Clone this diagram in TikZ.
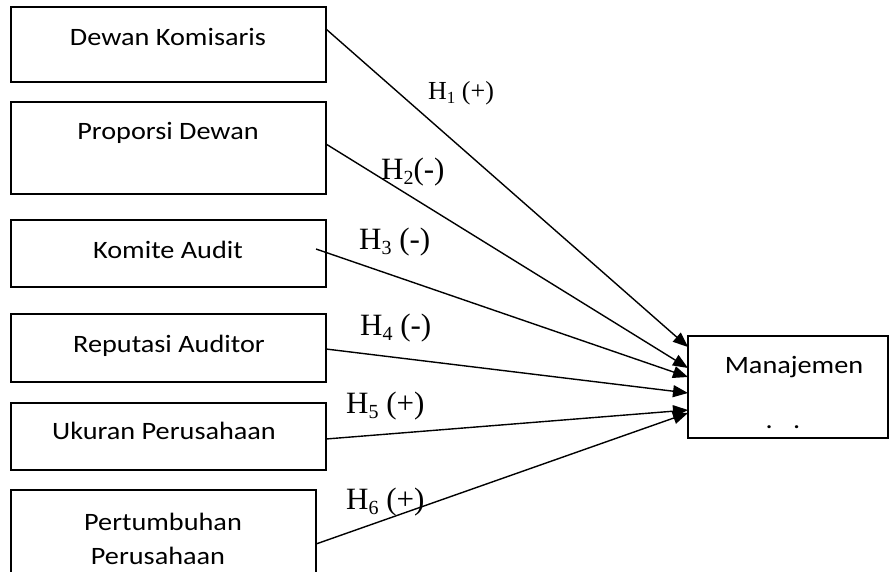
\documentclass[tikz,border=0pt]{standalone}
\usepackage{fontspec}
\usepackage{graphicx}
\setmainfont{Liberation Serif}
\newfontfamily\calfont{Carlito}
\usetikzlibrary{arrows.meta}
\newcommand\wtext[1]{\scalebox{1.13}[1]{#1}}
\newcommand\hlabA[2]{{\fontsize{26}{30}\selectfont H\raisebox{-4pt}{\fontsize{17}{19}\selectfont #1}#2}}
\newcommand\hlabB[2]{{\fontsize{31}{34}\selectfont H\raisebox{-5pt}{\fontsize{20}{22}\selectfont #1}#2}}
\tikzset{
  box/.style={draw, line width=1.6pt, inner sep=0pt, outer sep=0pt, anchor=north west},
  btext/.style={font=\calfont\fontsize{25}{33}\selectfont, anchor=base, inner sep=0pt},
  hlab/.style={anchor=base west, inner sep=0pt},
  arr/.style={line width=1.4pt, -{Triangle[length=15pt,width=12pt]}}
}
\begin{document}
\begin{tikzpicture}[x=1pt,y=-1pt]
\useasboundingbox (0,0) rectangle (889,571);
% boxes
\node[box, minimum width=315pt, minimum height=75pt] (b1) at (11,7) {};
\node[box, minimum width=315pt, minimum height=92pt] (b2) at (11,102) {};
\node[box, minimum width=315pt, minimum height=67pt] (b3) at (11,220) {};
\node[box, minimum width=315pt, minimum height=68pt] (b4) at (11,314) {};
\node[box, minimum width=315pt, minimum height=67pt] (b5) at (11,403) {};
\node[box, minimum width=305pt, minimum height=110pt] (b6) at (11,490) {};
\node[box, minimum width=200pt, minimum height=102pt] (m) at (688,336) {};
% box texts
\node[btext] (t1) at (168,45) {\wtext{Dewan Komisaris}};
\node[btext] (t2) at (168,139) {\wtext{Proporsi Dewan}};
\node[btext] (t3) at (168,258) {\wtext{Komite Audit}};
\node[btext] (t4) at (169,352) {\wtext{Reputasi Auditor}};
\node[btext] (t5) at (164,439) {\wtext{Ukuran Perusahaan}};
\node[btext] (t6) at (163,530) {\wtext{Pertumbuhan}};
\node[btext] (t6b) at (158,564) {\wtext{Perusahaan}};
\node[btext] (tm) at (794,373) {\wtext{Manajemen}};
\node[btext] (tmd) at (783,428) {\wtext{.\hspace{18pt}.}};
% connector end points
\coordinate (s1) at (326,29);
\coordinate (s2) at (326,144);
\coordinate (s3) at (316,249);
\coordinate (s4) at (326,349);
\coordinate (s5) at (326,439);
\coordinate (s6) at (316,544);
\coordinate (e1) at (688,347);
\coordinate (e2) at (688,368);
\coordinate (e3) at (688,377);
\coordinate (e4) at (688,393);
\coordinate (e5) at (688,410);
\coordinate (e6) at (688,413);
\draw[arr] (s1) -- (e1);
\draw[arr] (s2) -- (e2);
\draw[arr] (s3) -- (e3);
\draw[arr] (s4) -- (e4);
\draw[arr] (s5) -- (e5);
\draw[arr] (s6) -- (e6);
% labels
\node[hlab] (h1) at (428,99) {\hlabA{1}{ (+)}};
\node[hlab] (h2) at (381,179) {\hlabB{2}{(-)}};
\node[hlab] (h3) at (359,249) {\hlabB{3}{ (-)}};
\node[hlab] (h4) at (360,335) {\hlabB{4}{ (-)}};
\node[hlab] (h5) at (346,413) {\hlabB{5}{ (+)}};
\node[hlab] (h6) at (346,509) {\hlabB{6}{ (+)}};
\end{tikzpicture}
\end{document}
